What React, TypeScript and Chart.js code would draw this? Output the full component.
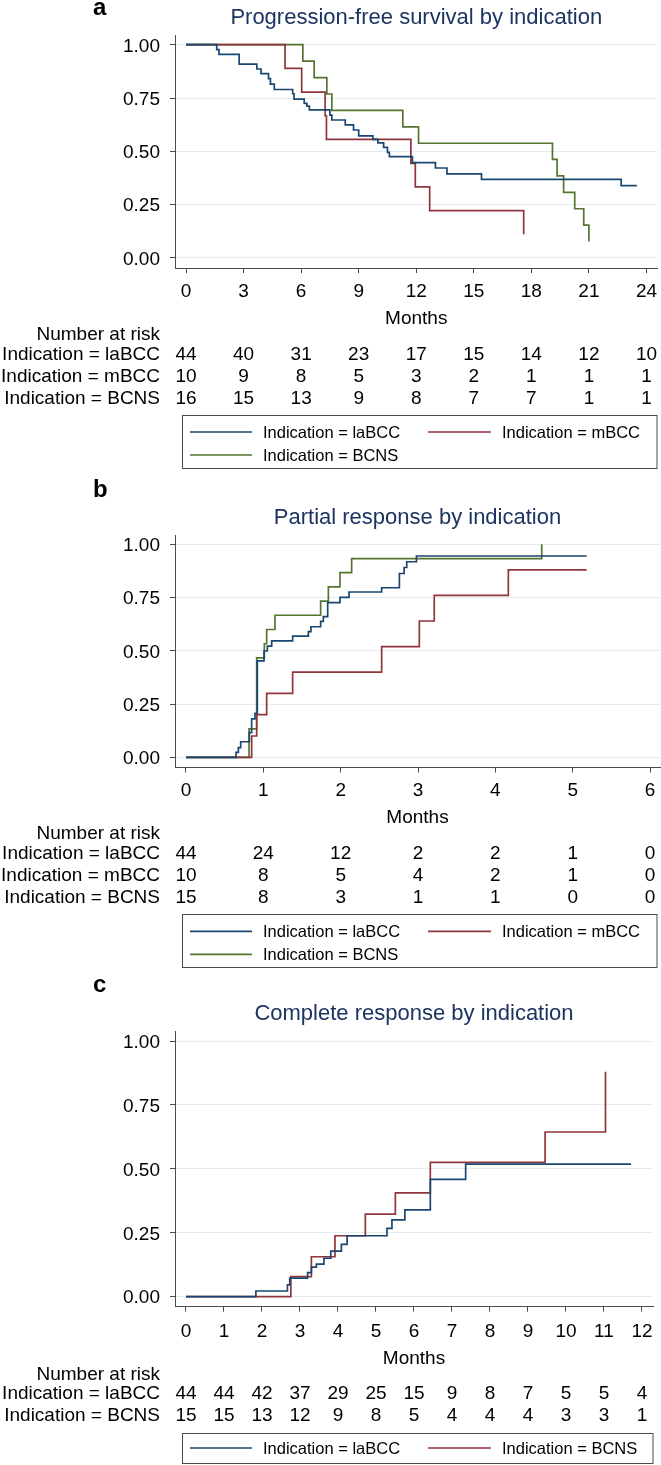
import React, { useEffect, useRef } from "react";
import { Chart, registerables } from "chart.js";

Chart.register(...registerables);

const FONT = '"Liberation Sans", Arial, Helvetica, sans-serif';
const BLUE = "#1a476f";
const RED = "#90353b";
const GREEN = "#55752f";
const AXIS = "#4a4a4a";
const GRID = "#e3ecf0";
const TITLE_COLOR = "#1c3461";

// ---------------- Panel a: Progression-free survival ----------------
const pfsTicks = [0, 3, 6, 9, 12, 15, 18, 21, 24];
const pfsLaBCCTime = [0, 1.6, 1.72, 2.77, 3.69, 3.91, 4.3, 4.4, 4.6, 5.56, 5.63, 6.16, 6.3, 6.43, 7.5, 7.6, 8.3, 8.73, 9.0, 9.74, 10.0, 10.3, 10.5, 10.6, 11.8, 13.0, 13.6, 15.4, 22.68, 23.5];
const pfsLaBCCSurv = [1, 0.977, 0.955, 0.909, 0.886, 0.864, 0.841, 0.815, 0.79, 0.77, 0.745, 0.725, 0.712, 0.694, 0.67, 0.647, 0.624, 0.6, 0.573, 0.556, 0.54, 0.519, 0.495, 0.475, 0.447, 0.422, 0.394, 0.369, 0.339, 0.339];
const pfsMBCCTime = [0, 5.16, 6.03, 7.25, 7.32, 11.72, 11.95, 12.7, 17.6];
const pfsMBCCSurv = [1, 0.889, 0.778, 0.667, 0.556, 0.444, 0.333, 0.222, 0.111];
const pfsBCNSTime = [0, 6.09, 6.68, 7.34, 7.6, 11.3, 12.12, 19.1, 19.34, 19.68, 20.26, 20.73, 21.0];
const pfsBCNSSurv = [1, 0.923, 0.846, 0.769, 0.692, 0.615, 0.538, 0.462, 0.385, 0.308, 0.231, 0.154, 0.077];
const pfsRiskLaBCC = [44, 40, 31, 23, 17, 15, 14, 12, 10];
const pfsRiskMBCC = [10, 9, 8, 5, 3, 2, 1, 1, 1];
const pfsRiskBCNS = [16, 15, 13, 9, 8, 7, 7, 1, 1];

// ---------------- Panel b: Partial response ----------------
const prTicks = [0, 1, 2, 3, 4, 5, 6];
const prLaBCCTime = [0, 0.647, 0.677, 0.707, 0.819, 0.849, 0.892, 0.922, 1.009, 1.052, 1.108, 1.379, 1.582, 1.616, 1.741, 1.776, 1.832, 1.991, 2.108, 2.53, 2.759, 2.82, 2.854, 2.98, 5.18];
const prLaBCCProb = [0, 0.023, 0.045, 0.073, 0.116, 0.18, 0.206, 0.453, 0.499, 0.522, 0.547, 0.569, 0.59, 0.613, 0.638, 0.66, 0.726, 0.751, 0.776, 0.796, 0.863, 0.891, 0.918, 0.945, 0.945];
const prMBCCTime = [0, 0.849, 0.914, 1.043, 1.379, 2.53, 3.017, 3.21, 4.168, 5.18];
const prMBCCProb = [0, 0.1, 0.2, 0.3, 0.4, 0.52, 0.64, 0.76, 0.88, 0.88];
const prBCNSTime = [0, 0.815, 0.914, 1.013, 1.043, 1.151, 1.741, 1.841, 1.991, 2.142, 4.6];
const prBCNSProb = [0, 0.133, 0.467, 0.533, 0.6, 0.667, 0.733, 0.8, 0.867, 0.933, 1.0];
const prRiskLaBCC = [44, 24, 12, 2, 2, 1, 0];
const prRiskMBCC = [10, 8, 5, 4, 2, 1, 0];
const prRiskBCNS = [15, 8, 3, 1, 1, 0, 0];

// ---------------- Panel c: Complete response ----------------
const crTicks = [0, 1, 2, 3, 4, 5, 6, 7, 8, 9, 10, 11, 12];
const crLaBCCTime = [0, 1.84, 2.67, 2.73, 3.2, 3.3, 3.43, 3.63, 3.81, 4.09, 4.24, 5.29, 5.42, 5.76, 6.43, 7.36, 11.71];
const crLaBCCProb = [0, 0.022, 0.046, 0.072, 0.094, 0.115, 0.127, 0.15, 0.178, 0.204, 0.238, 0.267, 0.3, 0.339, 0.459, 0.518, 0.518];
const crBCNSTime = [0, 2.76, 3.3, 3.92, 4.72, 5.51, 6.43, 9.45, 11.04];
const crBCNSProb = [0, 0.078, 0.156, 0.238, 0.323, 0.406, 0.525, 0.644, 0.88];
const crRiskLaBCC = [44, 44, 42, 37, 29, 25, 15, 9, 8, 7, 5, 5, 4];
const crRiskBCNS = [15, 15, 13, 12, 9, 8, 5, 4, 4, 4, 3, 3, 1];

const yTicks = [0, 0.25, 0.5, 0.75, 1];
const yTickLabels = ["0.00", "0.25", "0.50", "0.75", "1.00"];

type Series = { label: string; color: string; t: number[]; v: number[]; risk: number[] };

type PanelCfg = {
  top: number;
  height: number;
  letter: string;
  letterY: number;
  title: string;
  titleY: number;
  areaTop: number;
  areaBottom: number;
  areaRight: number;
  xMin: number;
  xMax: number;
  yMin: number;
  yMax: number;
  xTicks: number[];
  tickY: number;
  monthsY: number;
  narY: number;
  rowY: number[];
  legTop: number;
  legBottom: number;
  legRight: number;
  legRows: number[][];
  legRowY: number[];
  series: Series[];
};

const panels: PanelCfg[] = [
  {
    top: 0, height: 478, letter: "a", letterY: 15,
    title: "Progression-free survival by indication", titleY: 24,
    areaTop: 35, areaBottom: 268, areaRight: 657.5,
    xMin: -0.574, xMax: 24.574, yMin: -0.0469, yMax: 1.0455,
    xTicks: pfsTicks, tickY: 290, monthsY: 317, narY: 333, rowY: [353.3, 375, 396.7],
    legTop: 415, legBottom: 468, legRight: 657, legRows: [[0, 1], [2]], legRowY: [432, 455],
    series: [
      { label: "Indication = laBCC", color: BLUE, t: pfsLaBCCTime, v: pfsLaBCCSurv, risk: pfsRiskLaBCC },
      { label: "Indication = mBCC", color: RED, t: pfsMBCCTime, v: pfsMBCCSurv, risk: pfsRiskMBCC },
      { label: "Indication = BCNS", color: GREEN, t: pfsBCNSTime, v: pfsBCNSSurv, risk: pfsRiskBCNS },
    ],
  },
  {
    top: 478, height: 497, letter: "b", letterY: 497,
    title: "Partial response by indication", titleY: 523.6,
    areaTop: 535, areaBottom: 767.5, areaRight: 660,
    xMin: -0.1422, xMax: 6.129, yMin: -0.0479, yMax: 1.0437,
    xTicks: prTicks, tickY: 789.3, monthsY: 816.3, narY: 832.3, rowY: [852.6, 874.3, 896],
    legTop: 914.3, legBottom: 967.3, legRight: 657, legRows: [[0, 1], [2]], legRowY: [931.3, 954.3],
    series: [
      { label: "Indication = laBCC", color: BLUE, t: prLaBCCTime, v: prLaBCCProb, risk: prRiskLaBCC },
      { label: "Indication = mBCC", color: RED, t: prMBCCTime, v: prMBCCProb, risk: prRiskMBCC },
      { label: "Indication = BCNS", color: GREEN, t: prBCNSTime, v: prBCNSProb, risk: prRiskBCNS },
    ],
  },
  {
    top: 975, height: 490, letter: "c", letterY: 992,
    title: "Complete response by indication", titleY: 1020.3,
    areaTop: 1031.5, areaBottom: 1306.7, areaRight: 653,
    xMin: -0.289, xMax: 12.29, yMin: -0.0395, yMax: 1.0372,
    xTicks: crTicks, tickY: 1330, monthsY: 1357, narY: 1373, rowY: [1392, 1414],
    legTop: 1433, legBottom: 1463, legRight: 653, legRows: [[0, 1]], legRowY: [1448],
    series: [
      { label: "Indication = laBCC", color: BLUE, t: crLaBCCTime, v: crLaBCCProb, risk: crRiskLaBCC },
      { label: "Indication = BCNS", color: RED, t: crBCNSTime, v: crBCNSProb, risk: crRiskBCNS },
    ],
  },
];

const TXT = 19;
const CAP = 0.716 * TXT;
const LEG = 16.5;
const LEGCAP = 0.716 * LEG;

function Panel({ cfg }: { cfg: PanelCfg }) {
  const ref = useRef<HTMLCanvasElement>(null);
  useEffect(() => {
    const T = cfg.top;
    const textPlugin = {
      id: "kmText",
      afterDraw(chart: any) {
        const ctx = chart.ctx as CanvasRenderingContext2D;
        const xs = chart.scales.x;
        const ys = chart.scales.y;
        ctx.save();
        // letter
        ctx.fillStyle = "#000";
        ctx.font = `bold 24px ${FONT}`;
        ctx.textAlign = "left";
        ctx.textBaseline = "alphabetic";
        ctx.fillText(cfg.letter, 93, cfg.letterY - T);
        // title
        ctx.fillStyle = TITLE_COLOR;
        ctx.font = `22px ${FONT}`;
        ctx.textAlign = "center";
        ctx.fillText(cfg.title, (175 + cfg.areaRight) / 2, cfg.titleY - T);
        // y tick labels
        ctx.fillStyle = "#000";
        ctx.font = `${TXT}px ${FONT}`;
        ctx.textAlign = "right";
        yTicks.forEach((v, i) => {
          ctx.fillText(yTickLabels[i], 160, ys.getPixelForValue(v) + CAP / 2);
        });
        // x tick labels
        ctx.textAlign = "center";
        cfg.xTicks.forEach((v) => {
          ctx.fillText(String(v), xs.getPixelForValue(v), cfg.tickY - T + CAP / 2);
        });
        // axis title
        ctx.fillText("Months", (175 + cfg.areaRight) / 2, cfg.monthsY - T + CAP / 2);
        // number at risk
        ctx.textAlign = "right";
        ctx.fillText("Number at risk", 160, cfg.narY - T + CAP / 2);
        cfg.series.forEach((s, r) => {
          const y = cfg.rowY[r] - T + CAP / 2;
          ctx.textAlign = "right";
          ctx.fillText(s.label, 160, y);
          ctx.textAlign = "center";
          s.risk.forEach((n, i) => {
            ctx.fillText(String(n), xs.getPixelForValue(cfg.xTicks[i]), y);
          });
        });
        // legend box
        ctx.strokeStyle = AXIS;
        ctx.lineWidth = 1;
        const lx = 182.5;
        const ly = Math.round(cfg.legTop - T) + 0.5;
        const lw = cfg.legRight - 182.5;
        const lh = cfg.legBottom - cfg.legTop;
        ctx.strokeRect(lx, ly, lw, lh);
        ctx.font = `${LEG}px ${FONT}`;
        const colX = [[190, 252, 263], [428, 491, 502]];
        cfg.legRows.forEach((row, ri) => {
          const y = cfg.legRowY[ri] - T;
          row.forEach((si, ci) => {
            const s = cfg.series[si];
            const [x0, x1, tx] = colX[ci];
            ctx.strokeStyle = s.color;
            ctx.lineWidth = 1.7;
            ctx.beginPath();
            ctx.moveTo(x0, y);
            ctx.lineTo(x1, y);
            ctx.stroke();
            ctx.fillStyle = "#000";
            ctx.textAlign = "left";
            ctx.fillText(s.label, tx, y + LEGCAP / 2);
          });
        });
        ctx.restore();
      },
    };

    const chart = new Chart(ref.current as HTMLCanvasElement, {
      type: "line",
      data: {
        datasets: cfg.series.map((s) => ({
          label: s.label,
          data: s.t.map((x, i) => ({ x, y: s.v[i] })),
          borderColor: s.color,
          backgroundColor: s.color,
          borderWidth: 1.7,
          pointRadius: 0,
          stepped: "before" as const,
          fill: false,
          tension: 0,
        })),
      },
      options: {
        animation: false,
        responsive: true,
        maintainAspectRatio: false,
        events: [],
        layout: { padding: { top: cfg.areaTop - T, left: 0, right: 661 - cfg.areaRight, bottom: 0 } },
        plugins: { legend: { display: false }, tooltip: { enabled: false }, title: { display: false } },
        scales: {
          x: {
            type: "linear",
            position: "bottom",
            min: cfg.xMin,
            max: cfg.xMax,
            afterBuildTicks: (s: any) => {
              s.ticks = cfg.xTicks.map((v) => ({ value: v }));
            },
            afterFit: (s: any) => {
              s.height = T + cfg.height - cfg.areaBottom;
            },
            ticks: { display: false },
            grid: { drawOnChartArea: false, drawTicks: true, tickLength: 5, tickColor: AXIS, tickWidth: 1 },
            border: { display: true, color: AXIS, width: 1 },
          },
          y: {
            type: "linear",
            position: "left",
            min: cfg.yMin,
            max: cfg.yMax,
            afterBuildTicks: (s: any) => {
              s.ticks = yTicks.map((v) => ({ value: v }));
            },
            afterFit: (s: any) => {
              s.width = 175;
            },
            ticks: { display: false },
            grid: { color: GRID, lineWidth: 1, drawTicks: true, tickLength: 5, tickColor: AXIS, tickWidth: 1 },
            border: { display: true, color: AXIS, width: 1 },
          },
        },
      },
      plugins: [textPlugin],
    } as any);
    return () => chart.destroy();
  }, [cfg]);

  return (
    <div style={{ position: "absolute", left: 0, top: cfg.top, width: 661, height: cfg.height }}>
      <canvas ref={ref} />
    </div>
  );
}

export default function App() {
  return (
    <div style={{ position: "absolute", left: 0, top: 0, width: 661, height: 1465, background: "#fff" }}>
      {panels.map((p) => (
        <Panel key={p.letter} cfg={p} />
      ))}
    </div>
  );
}
